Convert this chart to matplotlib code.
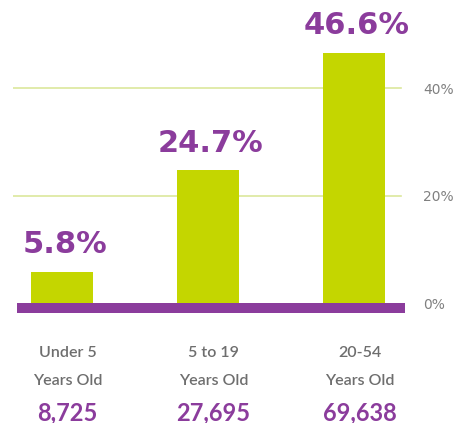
import numpy as np
import matplotlib
matplotlib.use("Agg")
import matplotlib.pyplot as plt

# age groups and their share
groups = ["Under 5", "5 to 19", "20-54"]
shares = [5.8, 24.7, 46.6]
counts = ["8,725", "27,695", "69,638"]
ticks = [0, 20, 40]

green = "#C4D600"
purple = "#8B3C9C"
grid_green = "#DCE79C"
grey = "#6E6E6E"

fig = plt.figure(figsize=(4.61, 4.23), dpi=100)
W, H = 461.0, 423.0
px = 5.375  # pixels per percent

# axes spans the plot area, bottom edge sits at the bottom of the purple band
ax = fig.add_axes([13 / W, (H - 313) / H, (405 - 13) / W, 313 / H])
x = np.arange(len(groups))
ax.set_xlim((13 - 62) / 146.0, (405 - 62) / 146.0)
ax.set_ylim(-10 / px, 313 / px - 10 / px)

for t in ticks[1:]:
	ax.axhline(t, xmin=0, xmax=0.99, color=grid_green, lw=1.2, zorder=1)

ax.bar(x, shares, width=0.42, color=green, zorder=2)
ax.axhspan(-10 / px, 0, xmin=4 / 392.0, xmax=1, color=purple, lw=0, zorder=3)

for i in range(len(groups)):
	ax.annotate("%.1f%%" % shares[i], xy=(x[i], shares[i]), xytext=(2, 9),
		textcoords="offset points", ha="center", va="bottom",
		fontsize=22, fontweight="bold", color=purple, family="DejaVu Sans")
	ax.annotate(groups[i], xy=(x[i], 0), xytext=(4, -36), textcoords="offset points",
		ha="center", va="center", fontsize=11.5, fontweight="semibold", color=grey, family="Lato")
	ax.annotate("Years Old", xy=(x[i], 0), xytext=(4, -56), textcoords="offset points",
		ha="center", va="center", fontsize=11.5, fontweight="semibold", color=grey, family="Lato")
	ax.annotate(counts[i], xy=(x[i], 0), xytext=(4, -79), textcoords="offset points",
		ha="center", va="center", fontsize=17, fontweight="bold", color=purple, family="Lato")

ax.yaxis.tick_right()
ax.set_yticks(ticks)
ax.set_yticklabels(["%d%%" % t for t in ticks], color="#808080", fontsize=10)
ax.tick_params(axis="y", length=0, pad=13)
ax.set_xticks([])
for s in ax.spines.values():
	s.set_visible(False)

plt.savefig("out.png", dpi=100)
